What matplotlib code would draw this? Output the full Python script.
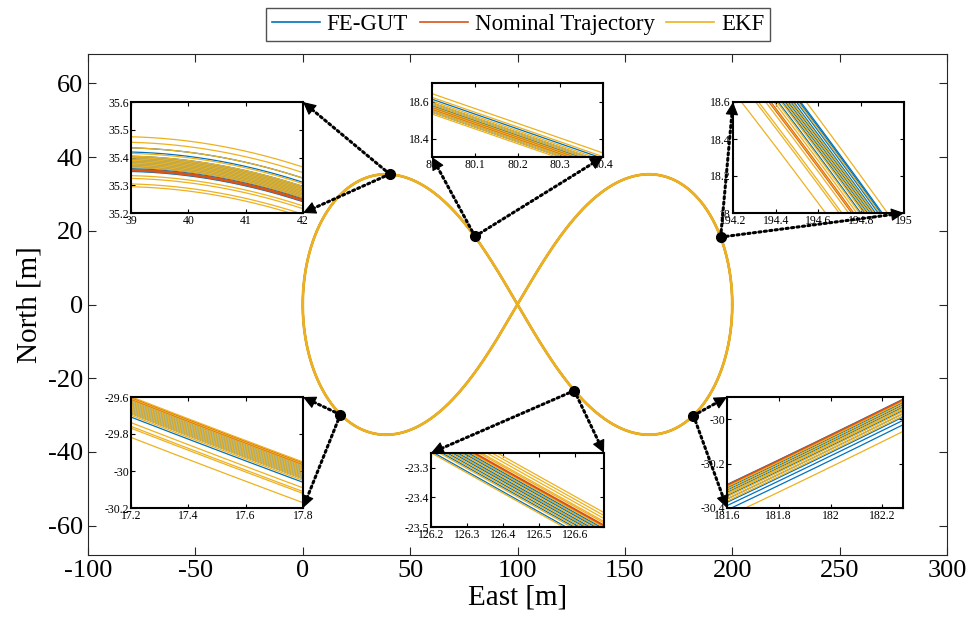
import numpy as np
import matplotlib
matplotlib.use("Agg")
from matplotlib import pyplot as plt
from matplotlib.patches import ConnectionPatch

plt.rcParams['font.family'] = ['Liberation Serif', 'DejaVu Serif']
plt.rcParams['axes.unicode_minus'] = False

# nominal trajectory: lemniscate (half width 100 m, centred at x = 100 m)
lem_a = 100.0
lem_cx = 100.0

# zoom windows: xlim, ylim
zoom_xlim = [(39, 42), (80, 80.4), (194.2, 195), (17.2, 17.8), (126.2, 126.68), (181.6, 182.28)]
zoom_ylim = [(35.2, 35.6), (18.3, 18.7), (18.0, 18.6), (-30.2, -29.6), (-23.5, -23.25), (-30.4, -29.9)]
zoom_xticks = [[39, 40, 41, 42], [80, 80.1, 80.2, 80.3, 80.4], [194.2, 194.4, 194.6, 194.8, 195],
               [17.2, 17.4, 17.6, 17.8], [126.2, 126.3, 126.4, 126.5, 126.6], [181.6, 181.8, 182, 182.2]]
zoom_yticks = [[35.2, 35.3, 35.4, 35.5, 35.6], [18.4, 18.6], [18, 18.2, 18.4, 18.6],
               [-30.2, -30, -29.8, -29.6], [-23.5, -23.4, -23.3], [-30.4, -30.2, -30]]

# vertical offsets (m) of each run from the nominal path inside every zoom window
fegut_off = [
    [0.08, 0.065, 0.05, 0.04, 0.035, 0.03, 0.025, 0.02, 0.015, 0.01, 0.005, 0.0, -0.005, 0.045],
    [0.05, 0.03, 0.02, 0.015, 0.01, 0.005, 0.0, -0.01, -0.02],
    [0.06, 0.09, 0.11, 0.13, 0.15, 0.17, 0.19, 0.21, 0.22],
    [-0.01, -0.02, -0.03, -0.04, -0.05, -0.06, -0.07, -0.08, -0.1],
    [-0.075, -0.06, -0.05, -0.04, -0.035, -0.03, -0.02, -0.015, -0.01, 0.0],
    [0.005, -0.01, -0.02, -0.03, -0.045, -0.06, -0.075, -0.09, -0.11],
]
ekf_off = [
    [0.12, 0.1, 0.08, 0.06, 0.05, 0.045, 0.04, 0.035, 0.03, 0.025, 0.02, 0.015, 0.01, -0.02, -0.03, -0.05, -0.06],
    [0.08, 0.06, 0.04, 0.03, 0.02, 0.01, 0.0, -0.01, -0.02, -0.03],
    [-0.2, -0.1, -0.08, -0.03, 0.0, 0.03, 0.05, 0.08, 0.1, 0.12, 0.14, 0.16, 0.2, 0.26],
    [0.01, 0.0, -0.01, -0.02, -0.03, -0.04, -0.05, -0.06, -0.07, -0.08, -0.09, -0.13, -0.15, -0.16, -0.21],
    [0.045, 0.035, 0.025, 0.015, 0.01, -0.005, -0.015, -0.025, -0.035, -0.045, -0.055, -0.065, -0.08],
    [-0.005, -0.015, -0.025, -0.035, -0.04, -0.05, -0.06, -0.07, -0.14],
]

# inset boxes in figure pixels (left, top, right, bottom) and corners the arrows point to
inset_px = [(131, 102, 303, 213), (432, 83, 603, 157), (733, 102, 904, 213),
            (131, 397, 303, 508), (431, 453, 604, 527), (727, 397, 903, 508)]
arrow_corners = [[(1, 1), (1, 0)], [(0, 0), (1, 0)], [(0, 1), (1, 0)],
                 [(1, 1), (1, 0)], [(0, 1), (1, 1)], [(0, 1), (0, 0)]]

c_fe = '#0072BD'
c_nom = '#D95319'
c_ekf = '#EDB120'
W, H = 970, 630

t = np.linspace(0, 2 * np.pi, 400001)
den = 1 + np.sin(t) ** 2
xn = lem_cx + lem_a * np.cos(t) / den
yn = lem_a * np.sin(t) * np.cos(t) / den

fig = plt.figure(figsize=(W / 100, H / 100), dpi=100)
ax = fig.add_axes([88 / W, 1 - 555 / H, (947 - 88) / W, (555 - 54) / H])
ax.plot(xn[::50], yn[::50], color=c_fe, lw=1.5, label='FE-GUT')
ax.plot(xn[::50], yn[::50], color=c_nom, lw=1.5, label='Nominal Trajectory')
ax.plot(xn[::50], yn[::50], color=c_ekf, lw=2, label='EKF')
ax.set_xlim(-100, 300)
ax.set_ylim(-68, 68)
ax.set_xticks(np.arange(-100, 301, 50))
ax.set_yticks(np.arange(-60, 61, 20))
ax.tick_params(direction='in', top=True, right=True, labelsize=19, length=6, width=0.8, color='#262626')
for s in ax.spines.values():
    s.set_color('#262626')
    s.set_linewidth(0.8)
ax.set_xlabel('East [m]', fontsize=21, labelpad=2)
ax.set_ylabel('North [m]', fontsize=21, labelpad=4)
leg = ax.legend(loc='upper center', bbox_to_anchor=(518 / W, 1 - 8 / H), bbox_transform=fig.transFigure,
                ncol=3, fontsize=16.5, frameon=True, fancybox=False, edgecolor='#262626',
                handlelength=2.1, handletextpad=0.3, columnspacing=0.5, borderpad=0.25, borderaxespad=0)
for ln in leg.get_lines():
    ln.set_linewidth(1.2)

for i in range(6):
    x0, x1 = zoom_xlim[i]
    y0, y1 = zoom_ylim[i]
    m = (xn > x0 - 1) & (xn < x1 + 1) & (yn > y0 - 1) & (yn < y1 + 1)
    xs, ys = xn[m], yn[m]
    l, tp, r, b = inset_px[i]
    axi = fig.add_axes([l / W, 1 - b / H, (r - l) / W, (b - tp) / H])
    for d in fegut_off[i]:
        axi.plot(xs, ys + d, color=c_fe, lw=0.9)
    axi.plot(xs, ys, color=c_nom, lw=2)
    for d in ekf_off[i]:
        axi.plot(xs, ys + d, color=c_ekf, lw=0.9)
    axi.set_xlim(x0, x1)
    axi.set_ylim(y0, y1)
    axi.set_xticks(zoom_xticks[i])
    axi.set_yticks(zoom_yticks[i])
    axi.set_xticklabels([f'{v:g}' for v in zoom_xticks[i]])
    axi.set_yticklabels([f'{v:g}' for v in zoom_yticks[i]])
    axi.tick_params(direction='in', top=True, right=True, labelsize=8.5, length=3, pad=1.5)
    for s in axi.spines.values():
        s.set_linewidth(1.5)
    xc, yc = (x0 + x1) / 2, (y0 + y1) / 2
    ax.plot(xc, yc, 'o', color='k', ms=7, zorder=5)
    pa = ax.transData.transform((xc, yc))
    for cx, cy in arrow_corners[i]:
        pb = axi.transAxes.transform((cx, cy))
        dist_pt = np.hypot(*(pb - pa)) * 72 / fig.dpi
        # dotted shaft
        fig.add_artist(ConnectionPatch(xyA=(xc, yc), coordsA=ax.transData, xyB=(cx, cy),
                                       coordsB=axi.transAxes, arrowstyle='-',
                                       linestyle=(0, (0.7, 1.1)), lw=2.2, color='k',
                                       shrinkA=0, shrinkB=4, zorder=6))
        # solid head at the inset corner
        fig.add_artist(ConnectionPatch(xyA=(xc, yc), coordsA=ax.transData, xyB=(cx, cy),
                                       coordsB=axi.transAxes, arrowstyle='-|>', lw=0.8,
                                       color='k', mutation_scale=20,
                                       shrinkA=dist_pt - 2, shrinkB=0, zorder=7))

fig.savefig('out.png', dpi=100)
